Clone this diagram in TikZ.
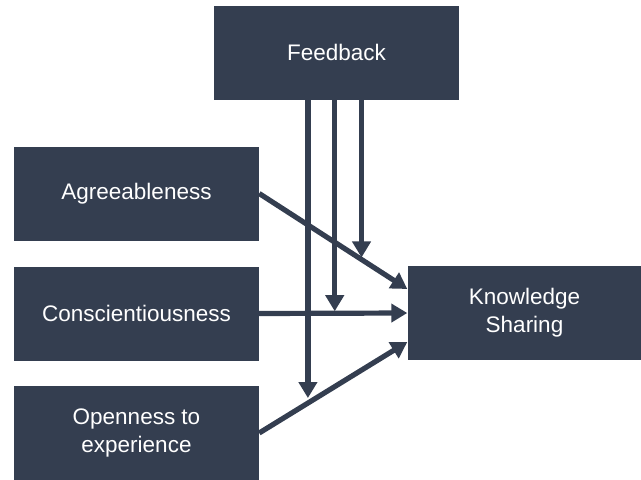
\documentclass[tikz,border=0pt]{standalone}
\usepackage{fontspec}
\setmainfont{Liberation Sans}
\usetikzlibrary{arrows.meta,calc}
\definecolor{slate}{HTML}{343E50}
\begin{document}
\begin{tikzpicture}[x=1pt,y=-1pt,line
				join=miter,>={Triangle[width=18pt,length=16pt]},
				box/.style={fill=slate,text=white,minimum width=245pt,minimum height=94pt,
				inner sep=0pt,align=center,font=\fontsize{22.5}{28}\selectfont},
				link/.style={draw=slate,line width=5.2pt,->,shorten >=0pt}]
				\useasboundingbox (0,0) rectangle (641,480);
				\node[box] (fb) at (336.5,52.5) {Feedback};
				\node[box] (agr) at (136.5,193.5) {Agreeableness};
				\node[box] (con) at (136.5,313.5) {Conscientiousness};
				\node[box] (opn) at (136.5,433) {Openness to\\experience};
				\node[box,minimum width=234pt] (ks) at (524.5,313) {Knowledge\\Sharing};
				\draw[link] (agr.east) -- ([yshift=24pt]ks.west) coordinate[pos=0.691] (ma);
				\draw[link] (con.east) -- (ks.west) coordinate[pos=0.51] (mc);
				\draw[link] (opn.east) -- ([yshift=-29pt]ks.west) coordinate[pos=0.329] (mo);
				\foreach\m/\s in {ma/2,mc/2,mo/5}
				{\draw[link,shorten >=\s pt] (fb.south -| \m) -- (\m);}
			\end{tikzpicture}
\end{document}
